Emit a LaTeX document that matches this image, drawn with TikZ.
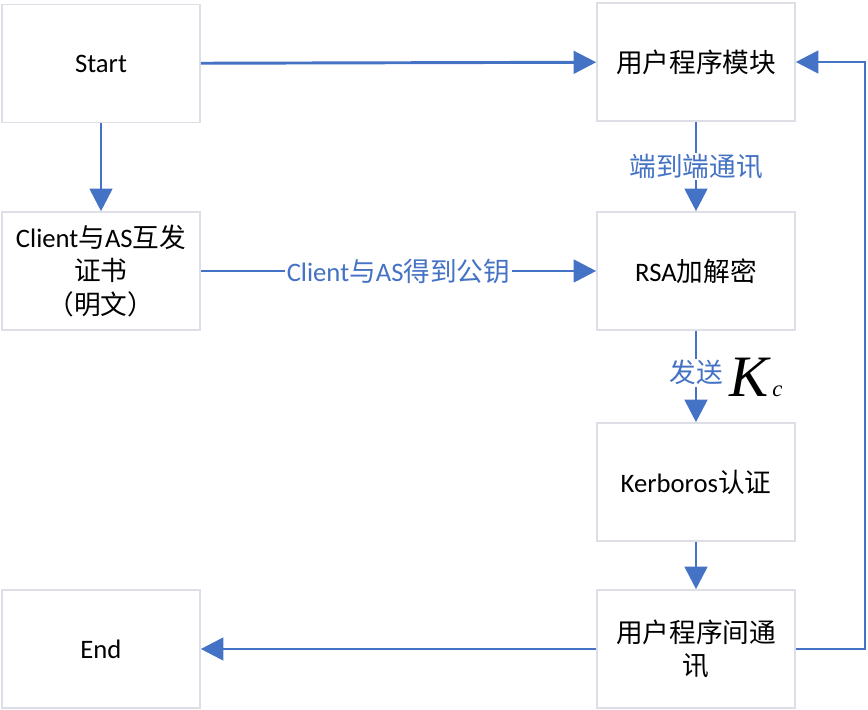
\documentclass[tikz,border=0pt]{standalone}
\usepackage{fontspec}
\setmainfont{Carlito}
\newfontfamily\cjk{Noto Sans CJK SC}
\newfontfamily\tnr{Liberation Serif}
\usetikzlibrary{arrows.meta}
\definecolor{lineblue}{HTML}{4472C4}
\definecolor{boxgray}{HTML}{DEDEE6}
\newcommand{\zh}[1]{{\cjk #1}}
\begin{document}
\begin{tikzpicture}[x=0.75pt,y=-0.75pt,
  box/.style={draw=boxgray,line width=1.2pt,fill=white,minimum width=148.5pt,minimum height=88.5pt,
    align=center,font=\fontsize{20}{25}\selectfont,inner sep=0pt},
  conn/.style={draw=lineblue,line width=2.2pt,-{Triangle[length=17pt,width=17pt]}},
  lbl/.style={fill=white,text=lineblue,font=\fontsize{20}{25}\selectfont,inner sep=1pt}]
\useasboundingbox (0,0) rectangle (868,710);
\node[box] (start) at (101,63.5) {Start};
\node[box] (client) at (101,271) {Client\zh{与}AS\zh{互发}\\\zh{证书}\\\zh{（明文）}};
\node[box] (end) at (101,649) {End};
\node[box] (mod) at (696,62) {\zh{用户程序模块}};
\node[box] (rsa) at (696,271) {RSA\zh{加解密}};
\node[box] (ker) at (696,482) {Kerboros\zh{认证}};
\node[box] (comm) at (696,649) {\zh{用户程序间通}\\\zh{讯}};
\coordinate (c1) at (865,649);
\coordinate (c2) at (865,62);
\draw[conn] (start) -- (mod);
\draw[conn] (start) -- (client);
\draw[conn] (client) -- node[lbl] (l1) {Client\zh{与}AS\zh{得到公钥}} (rsa);
\draw[conn] (mod) -- node[lbl] (l2) {\zh{端到端通讯}} (rsa);
\draw[conn] (rsa) -- node[lbl,pos=0.46] (l3) {\zh{发送}} (ker);
\node[anchor=base west,inner sep=0pt] (kc) at (729,396) {\tnr\itshape\fontsize{44}{44}\selectfont K\hspace{3pt}\fontsize{17}{17}\selectfont c};
\draw[conn] (ker) -- (comm);
\draw[conn] (comm) -- (end);
\draw[conn] (comm.east) -- (c1) -- (c2) -- (mod.east);
\end{tikzpicture}
\end{document}
